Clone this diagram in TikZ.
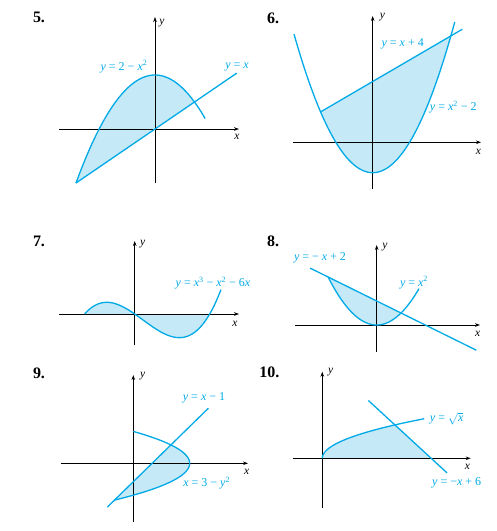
\documentclass[tikz,border=0pt]{standalone}
\usepackage{fontspec}
\setmainfont{Liberation Serif}
\usetikzlibrary{arrows.meta}
\definecolor{cur}{RGB}{0,170,230}
\definecolor{sh}{RGB}{198,233,248}
\tikzset{
 axis/.style={line width=0.8pt, -{Stealth[length=5pt,width=3.6pt]}},
 curve/.style={cur, line width=1.3pt, line join=round},
 shade/.style={fill=sh},
 lab/.style={text=cur, font=\fontsize{12}{14}\selectfont, inner sep=0pt},
 axlab/.style={font=\fontsize{11.5}{13}\selectfont\itshape, inner sep=0pt},
 num/.style={font=\fontsize{16}{18}\selectfont\bfseries, inner sep=0pt},
}
\newcommand{\iv}[1]{\textit{#1}}
\newcommand{\sqr}[1]{\textsuperscript{#1}}
\begin{document}
\begin{tikzpicture}[x=1pt,y=-1pt]
\useasboundingbox (0,0) rectangle (497,531);
% ---------- 5 ----------
\node[num] (n5) at (39,17) {5.};
\begin{scope}[shift={(155,129)},x=39.5pt,y=27pt]
 \fill[shade] plot[domain=-2:1,samples=60] (\x,{2-\x*\x}) -- cycle;
\end{scope}
\draw[axis] (59,129) -- (239,129);
\draw[axis] (155,183) -- (155,17);
\begin{scope}[shift={(155,129)},x=39.5pt,y=27pt]
 \draw[curve] plot[domain=-2:1.27,samples=60] (\x,{2-\x*\x});
 \draw[curve] (-2,-2) -- (2.07,2.07);
\end{scope}
\node[axlab] (y5) at (162,23) {y};
\node[axlab] (x5) at (237,137) {x};
\node[lab] (l5a) at (124,66.7) {\iv{y} = 2 − \iv{x}\sqr{2}};
\node[lab] (l5b) at (237,66.7) {\iv{y} = \iv{x}};
% ---------- 6 ----------
\node[num] (n6) at (273,18) {6.};
\begin{scope}[shift={(372.7,142.3)},x=26.06pt,y=15.2pt]
 \fill[shade] plot[domain=-2:3,samples=60] (\x,{\x*\x-2}) -- cycle;
\end{scope}
\draw[axis] (292.7,142.3) -- (481,142.3);
\draw[axis] (372.7,189) -- (372.7,16);
\begin{scope}[shift={(372.7,142.3)},x=26.06pt,y=15.2pt]
 \draw[curve] plot[domain=-3.02:3.15,samples=80] (\x,{\x*\x-2});
 \draw[curve] (-2,2) -- (3.44,7.44);
\end{scope}
\node[axlab] (y6) at (382.3,16.7) {y};
\node[axlab] (x6) at (478.3,151.7) {x};
\node[lab] (l6a) at (402.7,43.7) {\iv{y} = \iv{x} + 4};
\node[lab] (l6b) at (453.3,107.3) {\iv{y} = \iv{x}\sqr{2} − 2};
% ---------- 7 ----------
\node[num] (n7) at (39,241.7) {7.};
\begin{scope}[shift={(134.7,314)},x=25pt,y=2.88pt]
 \fill[shade] plot[domain=-2:3,samples=80] (\x,{\x*\x*\x-\x*\x-6*\x}) -- cycle;
\end{scope}
\draw[axis] (59,314) -- (239,314);
\draw[axis] (134.7,345) -- (134.7,241);
\begin{scope}[shift={(134.7,314)},x=25pt,y=2.88pt]
 \draw[curve] plot[domain=-2:3.45,samples=80] (\x,{\x*\x*\x-\x*\x-6*\x});
\end{scope}
\node[axlab] (y7) at (142.7,244) {y};
\node[axlab] (x7) at (235,324) {x};
\node[lab] (l7) at (213,283.3) {\iv{y} = \iv{x}\sqr{3} − \iv{x}\sqr{2} − 6\iv{x}};
% ---------- 8 ----------
\node[num] (n8) at (273,241.7) {8.};
\begin{scope}[shift={(376.7,325)},x=24.3pt,y=12pt]
 \fill[shade] plot[domain=-2:1,samples=60] (\x,{\x*\x}) -- cycle;
\end{scope}
\draw[axis] (295,325) -- (480,325);
\draw[axis] (376.7,352) -- (376.7,245);
\begin{scope}[shift={(376.7,325)},x=24.3pt,y=12pt]
 \draw[curve] plot[domain=-2:1.74,samples=60] (\x,{\x*\x});
 \draw[curve] (-2.74,4.74) -- (4.1,-2.1);
\end{scope}
\node[axlab] (y8) at (385,246.7) {y};
\node[axlab] (x8) at (477.7,334.3) {x};
\node[lab] (l8a) at (320,258.3) {\iv{y} = − \iv{x} + 2};
\node[lab] (l8b) at (414,282.7) {\iv{y} = \iv{x}\sqr{2}};
% ---------- 9 ----------
\node[num] (n9) at (39,373.3) {9.};
\begin{scope}[shift={(133.3,463.3)},x=18.8pt,y=18.4pt]
 \fill[shade] plot[domain=-2:1,samples=60] ({3-\x*\x},\x) -- cycle;
\end{scope}
\draw[axis] (61,463.3) -- (248,463.3);
\draw[axis] (133.3,521.7) -- (133.3,375);
\begin{scope}[shift={(133.3,463.3)},x=18.8pt,y=18.4pt]
 \draw[curve] plot[domain=-2:1.732,samples=60] ({3-\x*\x},\x);
 \draw[curve] (-1.38,-2.38) -- (3.99,2.99);
\end{scope}
\node[axlab] (y9) at (142.7,375.7) {y};
\node[axlab] (x9) at (246.7,471.7) {x};
\node[lab] (l9a) at (204,398.3) {\iv{y} = \iv{x} − 1};
\node[lab] (l9b) at (206.7,483.3) {\iv{x} = 3 − \iv{y}\sqr{2}};
% ---------- 10 ----------
\node[num] (n10) at (269.3,372.3) {10.};
\begin{scope}[shift={(322.3,458.3)},x=18.15pt,y=16.7pt]
 \fill[shade] plot[domain=0:2,samples=60] ({\x*\x},\x) -- (6,0) -- cycle;
\end{scope}
\draw[axis] (292.7,458.3) -- (470.7,458.3);
\draw[axis] (322.3,507.7) -- (322.3,371.7);
\begin{scope}[shift={(322.3,458.3)},x=18.15pt,y=16.7pt]
 \draw[curve] plot[domain=0:2.37,samples=60] ({\x*\x},\x);
 \draw[curve] (2.54,3.46) -- (6.87,-0.87);
\end{scope}
\node[axlab] (y10) at (330.7,372.3) {y};
\node[axlab] (x10) at (467.3,466.7) {x};
\node[lab] (l10a) at (446.7,418.3) {\iv{y} = $\sqrt{\mbox{\itshape x}}$};
\node[lab] (l10b) at (456.7,482.7) {\iv{y} = −\iv{x} + 6};
\end{tikzpicture}
\end{document}
